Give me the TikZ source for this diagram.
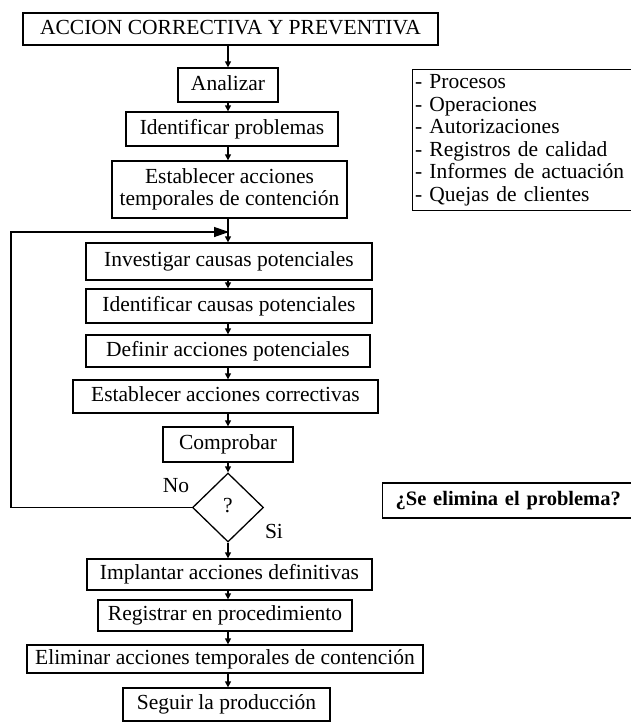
\documentclass[tikz,border=0pt]{standalone}
\usepackage{fontspec}
\setmainfont{Liberation Serif}
\usetikzlibrary{shapes.geometric,arrows.meta}
\begin{document}
\begin{tikzpicture}[x=1pt,y=-1pt,
  every node/.style={font=\fontsize{21.5}{22.5}\selectfont, inner sep=0pt},
  box/.style={draw, line width=1.3pt, rectangle, align=center},
  one/.style={text height=15pt, text depth=4.5pt},
  arr/.style={line width=1.3pt, -{Triangle[length=6pt,width=6pt]}},
  bigarr/.style={line width=1.3pt, -{Triangle[length=15pt,width=10pt]}}]
\useasboundingbox (0,0) rectangle (630,723);
\fill[white] (0,0) rectangle (630,723);

% main flow
\node[box, one, minimum width=415, minimum height=32] (title) at (230.5,29) {ACCION CORRECTIVA Y PREVENTIVA};
\node[box, one, minimum width=100, minimum height=34] (analizar) at (228,85) {Analizar};
\node[box, one, minimum width=212, minimum height=34] (idprob) at (232,129) {Identificar problemas};
\node[box, minimum width=235, minimum height=57] (temp) at (229.5,189.5) {Establecer acciones\\temporales de contención};
\node[box, one, minimum width=286, minimum height=37] (inv) at (229,261.5) {Investigar causas potenciales};
\node[box, one, minimum width=286, minimum height=34] (idcaus) at (229,306) {Identificar causas potenciales};
\node[box, one, minimum width=284, minimum height=32] (defin) at (228,351) {Definir acciones potenciales};
\node[box, one, minimum width=305, minimum height=33] (correct) at (225.5,396.5) {Establecer acciones correctivas};
\node[box, one, minimum width=130, minimum height=35] (comp) at (228,444.5) {Comprobar};
\node[draw, line width=1.3pt, diamond, minimum width=71, minimum height=69, one] (q) at (228,507.5) {?};
\node[box, one, minimum width=285, minimum height=31] (impl) at (229.5,574.5) {Implantar acciones definitivas};
\node[box, one, minimum width=254, minimum height=31] (reg) at (225,615.5) {Registrar en procedimiento};
\node[box, one, minimum width=396, minimum height=28] (elim) at (225,659) {Eliminar acciones temporales de contención};
\node[box, one, minimum width=207, minimum height=33] (seguir) at (226.5,704.5) {Seguir la producción};

% vertical connectors on the axis of the decision
\draw[arr] (title.south -| q) -- (analizar.north -| q);
\draw[arr] (analizar.south -| q) -- (idprob.north -| q);
\draw[arr] (idprob.south -| q) -- (temp.north -| q);
\draw[arr] (temp.south -| q) -- (inv.north -| q);
\draw[arr] (inv.south -| q) -- (idcaus.north -| q);
\draw[arr] (idcaus.south -| q) -- (defin.north -| q);
\draw[arr] (defin.south -| q) -- (correct.north -| q);
\draw[arr] (correct.south -| q) -- (comp.north -| q);
\draw[arr] (comp.south -| q) -- (q.north);
\draw[arr] (q.south) -- (impl.north -| q);
\draw[arr] (impl.south -| q) -- (reg.north -| q);
\draw[arr] (reg.south -| q) -- (elim.north -| q);
\draw[arr] (elim.south -| q) -- (seguir.north -| q);

% feedback loop back to the investigation step
\coordinate (loopL) at (11,507.5);
\coordinate (join) at (229,232);
\draw[bigarr] (q.west) -- (loopL) |- (join);
\node[one] (no) at (176,487) {No};
\node[one] (si) at (274,533) {Si};

% side notes
\node[box, minimum width=222, minimum height=141, anchor=north west, align=left,
      text width=216, inner xsep=3pt] (list) at (411.5,69)
  {- Procesos\\- Operaciones\\- Autorizaciones\\- Registros de calidad\\- Informes de actuación\\- Quejas de clientes};
\node[box, minimum width=252, minimum height=35, anchor=west, align=left, text width=239, inner xsep=13pt,
      font=\fontsize{20.5}{22}\selectfont\bfseries, text height=14.5pt, text depth=4.5pt]
  (elimq) at (382,500.5) {¿Se elimina el problema?};
\end{tikzpicture}
\end{document}
